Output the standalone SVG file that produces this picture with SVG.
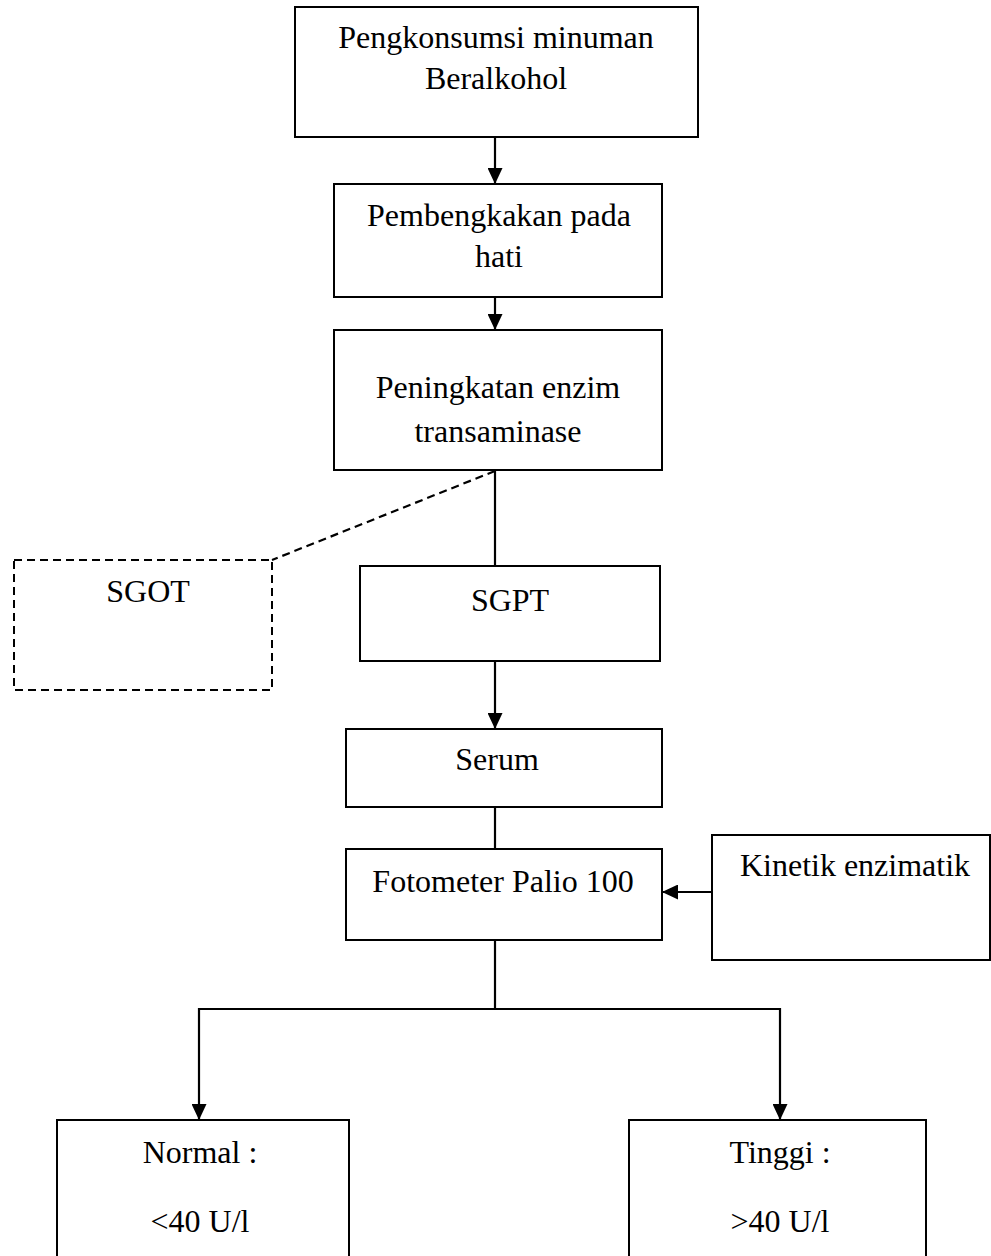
<svg xmlns="http://www.w3.org/2000/svg" width="991" height="1256" viewBox="0 0 991 1256">
<style>
.box{fill:#fff;stroke:#000;stroke-width:2}
.dash{fill:#fff;stroke:#000;stroke-width:2;stroke-dasharray:8,5}
.t{font-family:"Liberation Serif","Times New Roman",serif;font-size:32px;fill:#000;text-anchor:middle}
.c{fill:none;stroke:#000;stroke-width:2.2}
</style>
<defs>
<marker id="arr" viewBox="0 0 16 15" refX="16" refY="7.5" markerWidth="16" markerHeight="15" orient="auto" markerUnits="userSpaceOnUse">
<path d="M0,0 L16,7.5 L0,15 Z" fill="#000"/>
</marker>
</defs>
<rect width="991" height="1256" fill="#fff"/>
<g id="connectors">
<line class="c" x1="495" y1="137" x2="495" y2="184" marker-end="url(#arr)"/>
<line class="c" x1="495" y1="297" x2="495" y2="330" marker-end="url(#arr)"/>
<line class="c" x1="495" y1="470" x2="495" y2="566"/>
<line class="c" x1="495" y1="471" x2="272" y2="560" stroke-dasharray="8,5"/>
<line class="c" x1="495" y1="661" x2="495" y2="729" marker-end="url(#arr)"/>
<line class="c" x1="495" y1="807" x2="495" y2="849"/>
<line class="c" x1="712" y1="892" x2="662" y2="892" marker-end="url(#arr)"/>
<polyline class="c" points="495,940 495,1009"/>
<polyline class="c" points="199,1009 780,1009"/>
<line class="c" x1="199" y1="1008" x2="199" y2="1120" marker-end="url(#arr)"/>
<line class="c" x1="780" y1="1008" x2="780" y2="1120" marker-end="url(#arr)"/>
</g>
<g id="n1"><rect class="box" x="295" y="7" width="403" height="130"/><text class="t" x="496" y="48">Pengkonsumsi minuman</text><text class="t" x="496" y="89">Beralkohol</text></g>
<g id="n2"><rect class="box" x="334" y="184" width="328" height="113"/><text class="t" x="499" y="226">Pembengkakan pada</text><text class="t" x="499" y="267">hati</text></g>
<g id="n3"><rect class="box" x="334" y="330" width="328" height="140"/><text class="t" x="498" y="398">Peningkatan enzim</text><text class="t" x="498" y="442">transaminase</text></g>
<g id="n4"><rect class="dash" x="14" y="560" width="258" height="130"/><text class="t" x="148" y="602">SGOT</text></g>
<g id="n5"><rect class="box" x="360" y="566" width="300" height="95"/><text class="t" x="510" y="611">SGPT</text></g>
<g id="n6"><rect class="box" x="346" y="729" width="316" height="78"/><text class="t" x="497" y="770">Serum</text></g>
<g id="n7"><rect class="box" x="346" y="849" width="316" height="91"/><text class="t" x="503" y="892">Fotometer Palio 100</text></g>
<g id="n8"><rect class="box" x="712" y="835" width="278" height="125"/><text class="t" x="855" y="876">Kinetik enzimatik</text></g>
<g id="n9"><rect class="box" x="57" y="1120" width="292" height="150"/><text class="t" x="200" y="1163">Normal :</text><text class="t" x="200" y="1232">&lt;40 U/l</text></g>
<g id="n10"><rect class="box" x="629" y="1120" width="297" height="150"/><text class="t" x="780" y="1163">Tinggi :</text><text class="t" x="780" y="1232">&gt;40 U/l</text></g>
</svg>
